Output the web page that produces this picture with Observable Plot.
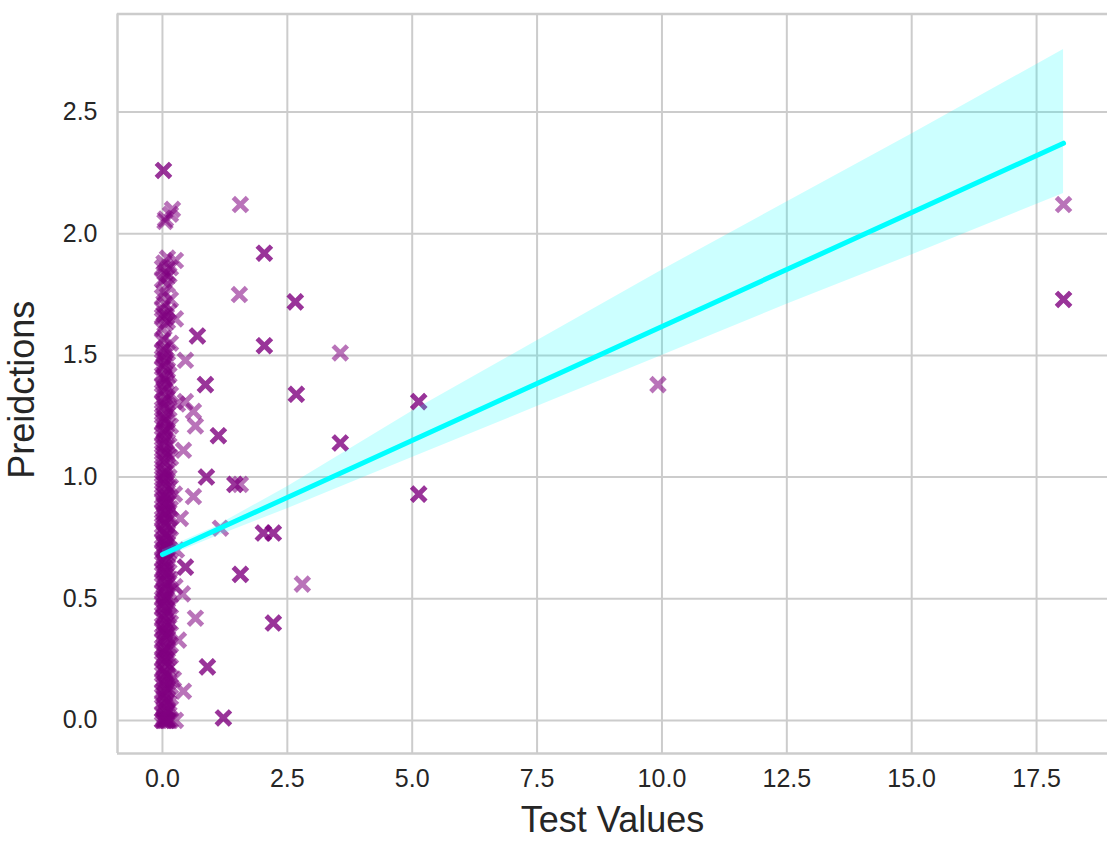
<!DOCTYPE html>
<html>
<head>
<meta charset="utf-8">
<script src="https://cdn.jsdelivr.net/npm/d3@7"></script>
<script src="https://cdn.jsdelivr.net/npm/@observablehq/plot@0.6"></script>
<style>
  html, body { margin: 0; padding: 0; background: #ffffff; }
  #chart svg { display: block; overflow: visible; }
</style>
</head>
<body>
<div id="chart"></div>
<script>
// ---- Data ----
// Dense column of predictions for test values near zero
const predAtX000 = [0,0,0.03,0.07,0.1,0.12,0.16,0.19,0.21,0.25,0.28,0.3,0.33,0.37,0.39,0.42,0.46,0.48,0.5,0.53,0.57,0.6,0.62,0.66,0.69,0.71,0.74,0.78,0.8,0.83,0.86,0.9,0.92,0.95,0.98,1.01,1.04,1.07,1.1,1.13,1.16,1.18,1.22,1.25,1.28,1.31,1.35,1.38,1.42,1.45,1.49,1.52,1.56,1.61,1.66,1.69,1.74,1.81,1.86];
const predAtX003 = [0,0.01,0.05,0.09,0.14,0.17,0.22,0.26,0.29,0.35,0.38,0.43,0.47,0.51,0.54,0.58,0.63,0.65,0.7,0.73,0.77,0.82,0.85,0.89,0.93,0.99,1.02,1.08,1.14,1.19,1.23,1.3,1.36,1.41,1.46,1.5,1.57,1.67,1.76,1.88];
const predAtX005 = [0,0.02,0.06,0.11,0.15,0.2,0.24,0.27,0.32,0.36,0.41,0.44,0.49,0.52,0.55,0.61,0.64,0.67,0.72,0.75,0.81,0.84,0.88,0.91,0.97,1.0,1.06,1.12,1.15,1.2,1.24,1.29,1.33,1.4,1.47,1.53,1.63,1.71,1.84,2.05];
const predAtX008 = [0,0.03,0.08,0.12,0.19,0.25,0.3,0.35,0.4,0.46,0.5,0.57,0.6,0.66,0.71,0.76,0.8,0.86,0.92,0.96,1.02,1.1,1.17,1.23,1.32,1.39,1.48,1.66,1.82];
const predAtX010 = [0,0,0.04,0.09,0.13,0.18,0.23,0.29,0.34,0.38,0.45,0.51,0.56,0.63,0.68,0.73,0.77,0.85,0.89,0.94,1.03,1.09,1.19,1.26,1.37,1.44,1.51,1.64,1.79,1.9];
const predAtX013 = [0,0.07,0.16,0.26,0.36,0.43,0.53,0.61,0.69,0.75,0.83,0.9,1.0,1.13,1.28,1.42,1.68,1.83];
const predAtX016 = [0,0.05,0.14,0.22,0.31,0.4,0.47,0.58,0.7,0.79,0.87,0.96,1.08,1.21,1.34,1.55,1.73,1.86,2.08];
// Scattered points (test value, prediction)
const otherTest = [0.26,0.22,0.25,0.24,0.26,0.26,0.2,0.3,0.28,0.02,0.02,0.06,
  2.04,2.04,1.56,1.54,2.66,2.66,2.04,2.04,3.56,0.7,0.7,2.68,2.68,0.86,0.86,5.13,5.13,
  3.56,3.56,1.12,1.12,0.62,0.66,0.88,0.88,1.45,1.45,1.56,0.42,0.46,0.46,0.62,0.36,
  1.16,2.02,2.02,2.22,2.22,1.56,1.56,2.8,2.22,2.22,0.46,0.46,0.4,0.66,0.9,0.9,0.32,0.42,
  1.22,1.22,5.13,5.13,9.92,18.04,18.04,18.04];
const otherPred = [0,0.17,0.55,0.93,1.65,1.89,2.1,1.3,0.7,2.26,2.26,2.06,
  1.92,1.92,2.12,1.75,1.72,1.72,1.54,1.54,1.51,1.58,1.58,1.34,1.34,1.38,1.38,1.31,1.31,
  1.14,1.14,1.17,1.17,1.27,1.21,1.0,1.0,0.97,0.97,0.97,1.11,1.48,1.31,0.92,0.83,
  0.79,0.77,0.77,0.77,0.77,0.6,0.6,0.56,0.4,0.4,0.63,0.63,0.52,0.42,0.22,0.22,0.33,0.12,
  0.01,0.01,0.93,0.93,1.38,2.12,1.73,1.73];
// Regression fit and its confidence band
const fitX = [0, 18.04];
const fitY = [0.682, 2.372];
const bandX = [0, 1, 2.5, 5, 7.5, 10, 12.5, 15, 18.04];
const bandLow = [0.665, 0.75, 0.87, 1.08, 1.29, 1.5, 1.71, 1.913, 2.165];
const bandHigh = [0.70, 0.79, 0.96, 1.27, 1.56, 1.85, 2.13, 2.41, 2.757];
// Axis ticks and labels
const xTicks = [0, 2.5, 5, 7.5, 10, 12.5, 15, 17.5];
const yTicks = [0, 0.5, 1, 1.5, 2, 2.5];
const xTitle = "Test Values";
const yTitle = "Preidctions";

// ---- Build tables ----
const points = [];
predAtX000.forEach(p => points.push({test: 0.0, pred: p}));
predAtX003.forEach(p => points.push({test: 0.03, pred: p}));
predAtX005.forEach(p => points.push({test: 0.05, pred: p}));
predAtX008.forEach(p => points.push({test: 0.08, pred: p}));
predAtX010.forEach(p => points.push({test: 0.1, pred: p}));
predAtX013.forEach(p => points.push({test: 0.13, pred: p}));
predAtX016.forEach(p => points.push({test: 0.16, pred: p}));
otherTest.forEach((t, i) => points.push({test: t, pred: otherPred[i]}));
const fit = fitX.map((x, i) => ({x, y: fitY[i]}));
const band = bandX.map((x, i) => ({x, lo: bandLow[i], hi: bandHigh[i]}));

const grid = "#cccccc";
const chart = Plot.plot({
  width: 1107,
  height: 841,
  marginLeft: 117,
  marginRight: 0,
  marginTop: 13.5,
  marginBottom: 88,
  style: {fontFamily: "'Liberation Sans', Arial, Helvetica, sans-serif", color: "#262626", background: "#ffffff"},
  x: {domain: [-0.9, 18.92]},
  y: {domain: [-0.136, 2.903]},
  marks: [
    Plot.gridX(xTicks, {stroke: grid, strokeOpacity: 1, strokeWidth: 2}),
    Plot.gridY(yTicks, {stroke: grid, strokeOpacity: 1, strokeWidth: 2}),
    Plot.ruleX([-0.9], {stroke: grid, strokeWidth: 2.5}),
    Plot.ruleY([-0.136, 2.903], {stroke: grid, strokeWidth: 2.5}),
    Plot.axisX(xTicks, {tickSize: 0, tickPadding: 16, fontSize: 25, tickFormat: d => d.toFixed(1), label: null}),
    Plot.axisY(yTicks, {tickSize: 0, tickPadding: 20, fontSize: 25, tickFormat: d => d.toFixed(1), label: null}),
    Plot.dot(points, {x: "test", y: "pred", symbol: "times", r: 6.5, stroke: "#800080", strokeOpacity: 0.55, strokeWidth: 4.8}),
    Plot.areaY(band, {x: "x", y1: "lo", y2: "hi", fill: "#00ffff", fillOpacity: 0.2}),
    Plot.line(fit, {x: "x", y: "y", stroke: "#00ffff", strokeWidth: 5}),
    Plot.text([xTitle], {frameAnchor: "bottom", textAnchor: "middle", lineAnchor: "bottom", dy: 78, fontSize: 36, fill: "#262626"}),
    Plot.text([yTitle], {frameAnchor: "left", textAnchor: "middle", lineAnchor: "bottom", rotate: -90, dx: -84, dy: 6, fontSize: 36, fill: "#262626"})
  ]
});
document.getElementById("chart").appendChild(chart);
</script>
</body>
</html>
